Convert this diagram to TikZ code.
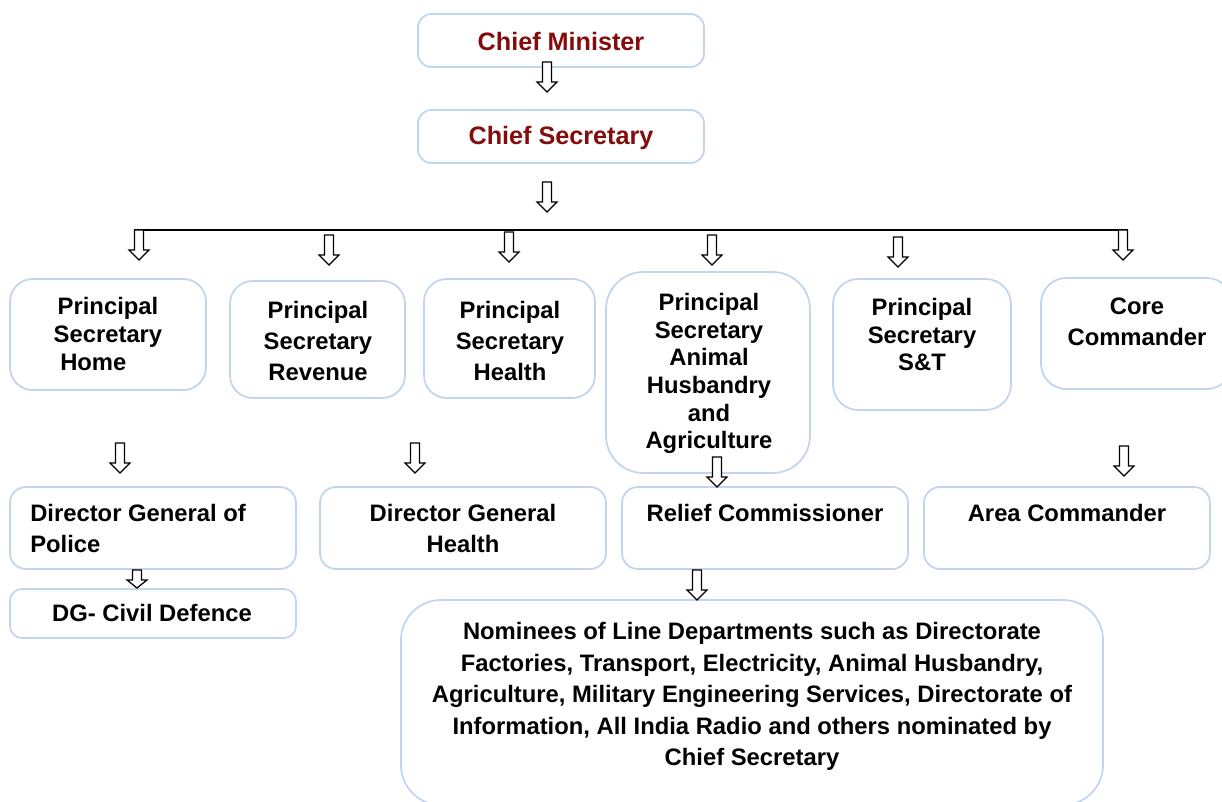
\documentclass[tikz,border=0pt]{standalone}
\usepackage{fontspec}
\setmainfont{Liberation Sans}
\usetikzlibrary{fit}
\definecolor{chiefred}{RGB}{132,12,12}
\definecolor{boxblue}{RGB}{194,213,238}
\tikzset{
  box/.style={draw=boxblue, line width=1.3pt, inner sep=0pt, fill=white},
  txt/.style={inner sep=0pt, align=center, font=\bfseries\fontsize{17.85}{20.7}\selectfont},
  txtw/.style={inner sep=0pt, align=center, font=\bfseries\fontsize{17.85}{23.25}\selectfont},
  chieftxt/.style={inner sep=0pt, text=chiefred, font=\bfseries\fontsize{18.9}{22}\selectfont},
  arrowst/.style={draw=black, fill=white, line width=0.9pt, line join=miter},
  hline/.style={draw=black, line width=1.1pt},
  barrow/.pic={\path[arrowst] (-4.5,0) -- (4.5,0) -- (4.5,20) -- (10,20) -- (0,30) -- (-10,20) -- (-4.5,20) -- cycle;},
  sbarrow/.pic={\path[arrowst] (-4.5,0) -- (4.5,0) -- (4.5,10) -- (10,10) -- (0,18) -- (-10,10) -- (-4.5,10) -- cycle;}
}
\begin{document}
\begin{tikzpicture}[x=0.75pt,y=-0.75pt]
\useasboundingbox[fill=white] (0,0) rectangle (1222,802);

% boxes
\node[box, rounded corners=10, fit={(418,14) (704,67)}] (cm) {};
\node[box, rounded corners=10, fit={(418,110) (704,163)}] (cs) {};
\node[box, rounded corners=17, fit={(10,279) (206,390)}] (home) {};
\node[box, rounded corners=17, fit={(230,281) (405,398)}] (rev) {};
\node[box, rounded corners=17, fit={(424,279) (595,398)}] (health) {};
\node[box, rounded corners=28, fit={(606,272) (810,473)}] (anim) {};
\node[box, rounded corners=19, fit={(833,279) (1011,410)}] (st) {};
\node[box, rounded corners=19, fit={(1041,278) (1232,389)}] (core) {};
\node[box, rounded corners=12, fit={(10,487) (296,569)}] (dgp) {};
\node[box, rounded corners=12, fit={(320,487) (606,569)}] (dgh) {};
\node[box, rounded corners=12, fit={(622,487) (908,569)}] (relief) {};
\node[box, rounded corners=12, fit={(924,487) (1210,569)}] (area) {};
\node[box, rounded corners=9, fit={(10,589) (296,638)}] (civil) {};
\node[box, rounded corners=30, fit={(401,600) (1103,805)}] (nom) {};

% texts
\node[chieftxt] (cmT) at (561,41) {Chief Minister};
\node[chieftxt] (csT) at (561,137.5) {Chief Secretary};
\node[txt] (homeT) at (108,334) {Principal\\Secretary\\Home\hspace*{22pt}};
\node[txtw] (revT) at (318,341) {Principal\\Secretary\\Revenue};
\node[txtw] (healthT) at (510,341) {Principal\\Secretary\\Health};
\node[txt] (animT) at (709,373.5) {Principal\\Secretary\\Animal\\Husbandry\\and\\Agriculture};
\node[txt] (stT) at (922,334.5) {Principal\\Secretary\\S\&T};
\node[txtw] (coreT) at (1137,321.5) {Core\\Commander};
\node[txtw, align=left, anchor=west] (dgpT) at (30,528.5) {Director General of\\Police};
\node[txtw] (dghT) at (463,528.5) {Director General\\Health};
\node[txt] (reliefT) at (765,513) {Relief Commissioner};
\node[txt] (areaT) at (1067,513) {Area Commander};
\node[txt] (civilT) at (152,613) {DG- Civil Defence};
\node[inner sep=0pt, align=center, font=\bfseries\fontsize{17.85}{23.7}\selectfont] (nomT) at (752,696.5)
  {Nominees of Line Departments such as Directorate\\Factories, Transport, Electricity, Animal Husbandry,\\Agriculture, Military Engineering Services, Directorate of\\Information, All India Radio and others nominated by\\Chief Secretary};

% distribution line
\coordinate (hlL) at (134,230);
\coordinate (hlR) at (1128,230);
\draw[hline] (hlL) -- (hlR);

% block arrows
\pic (a1) at (547,62) {barrow};
\pic (a2) at (547,182) {barrow};
\pic (a3) at (139,230) {barrow};
\pic (a4) at (329,235) {barrow};
\pic (a5) at (509,232) {barrow};
\pic (a6) at (712,235) {barrow};
\pic (a7) at (898,237) {barrow};
\pic (a8) at (1123,230) {barrow};
\pic (a9) at (120,443) {barrow};
\pic (a10) at (415,443) {barrow};
\pic (a11) at (717,457) {barrow};
\pic (a12) at (1124,446) {barrow};
\pic (a13) at (137,570) {sbarrow};
\pic (a14) at (697,570) {barrow};
\end{tikzpicture}
\end{document}
